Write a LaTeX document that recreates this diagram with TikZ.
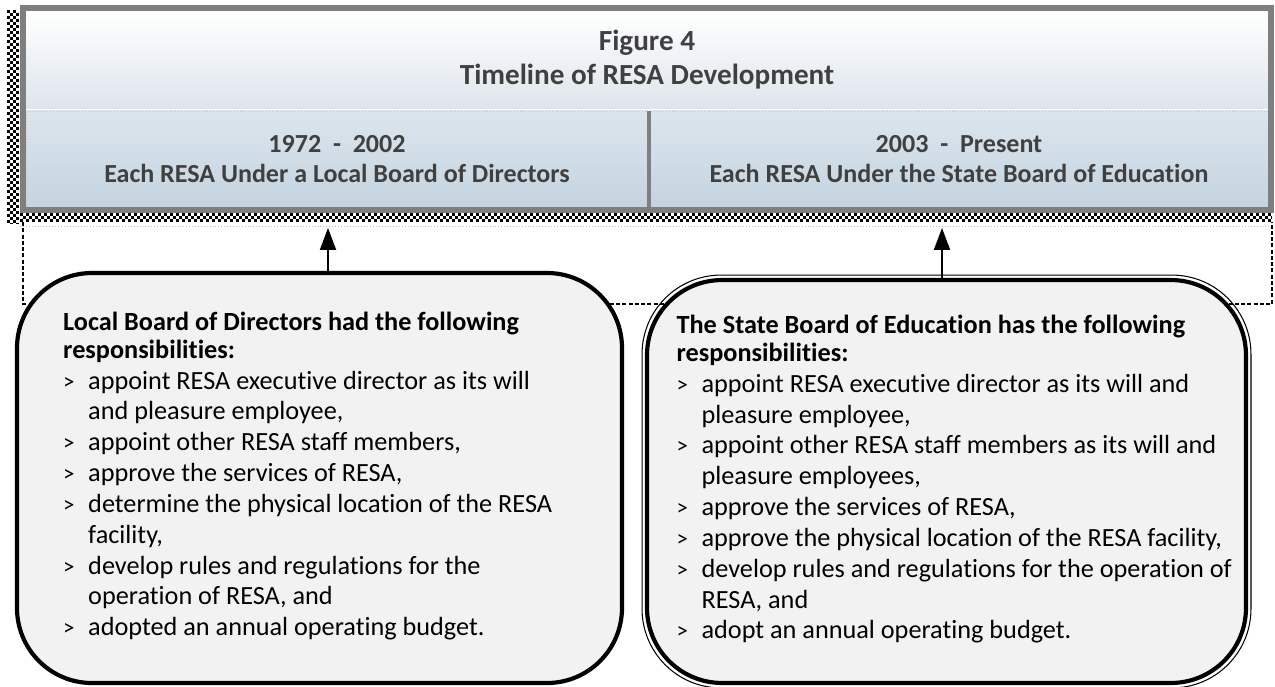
\documentclass[tikz,border=0pt]{standalone}
\usepackage{fontspec}
\setmainfont{Carlito}[Ligatures={NoCommon,NoRare,NoContextual}]
\usepackage{xcolor}
\usetikzlibrary{shapes,arrows.meta,positioning,calc,fit,backgrounds}
\definecolor{framegray}{HTML}{7F7F7F}
\definecolor{headtxt}{HTML}{404040}
\definecolor{bandbot}{HTML}{DEE5EC}
\definecolor{subtop}{HTML}{DCE5ED}
\definecolor{subbot}{HTML}{C4D4E0}
\definecolor{boxfill}{HTML}{F2F2F2}
\newcommand{\bul}{\makebox[12pt][l]{\fontsize{11}{11}\selectfont\textgreater}}
\newcommand{\hang}{\hspace*{12pt}}
\tikzset{
    band/.style={rectangle, top color=white, bottom color=bandbot, minimum width=596.2pt, minimum height=46.6pt, inner sep=0pt, align=center, text=headtxt, font=\bfseries\fontsize{14}{16.3}\selectfont},
    period/.style={rectangle, draw=gray!45, densely dotted, top color=subtop, bottom color=subbot, minimum height=46.1pt, inner sep=0pt, align=center, text=headtxt, font=\bfseries\fontsize{12.5}{14.4}\selectfont},
    frame/.style={rectangle, draw=framegray, line width=2.9pt, minimum width=599pt, minimum height=97pt, inner sep=0pt},
    divider/.style={draw=framegray, line width=1.9pt},
    duty/.style={rectangle, draw, fill=boxfill, rounded corners=36pt, line width=2pt},
    rim/.style={rectangle, draw, rounded corners=38pt, line width=0.5pt, inner sep=1.4pt},
    dutytext/.style={align=left, inner sep=0pt, font=\fontsize{12.6}{14.8}\selectfont},
    line/.style={draw, -{Triangle[length=10.5pt, width=7.7pt]}, line width=0.8pt},
    bracket/.style={draw, line width=1pt, dash pattern=on 2pt off 1pt},
    checker/.style={draw, line width=1.44pt, dash pattern=on 1.44pt off 1.44pt},
    shade/.style={draw=gray!50, densely dotted, line width=0.4pt}
}
\begin{document}
\begin{tikzpicture}[x=0.48pt, y=-0.48pt]
    \useasboundingbox (0,0) rectangle (1275,686);

    % shadow edges of the heading
    \draw [checker] (8,10) -- (8,224);
    \draw [checker, dash phase=1.44pt] (11,10) -- (11,224);
    \draw [checker] (14,10) -- (14,224);
    \draw [checker, dash phase=1.44pt] (17,10) -- (17,224);
    \draw [checker] (20,214) -- (1272,214);
    \draw [checker, dash phase=1.44pt] (20,217) -- (1272,217);
    \draw [checker] (20,220) -- (1272,220);
    \draw [shade] (20,226) -- (1272,226);
    \draw [bracket] (23,222) |- (1272,304) -- (1272,222);

    % heading
    \node [band] (title) at (647,59.5) {Figure 4\\Timeline of RESA Development};
    \node [period, minimum width=298.6pt] (early) at (337,159) {1972 \ - \ 2002\\Each RESA Under a Local Board of Directors};
    \node [period, minimum width=296.6pt] (late) at (959,159) {2003 \ - \ Present\\Each RESA Under the State Board of Education};
    \node [frame] (hdr) at (647,109) {};
    \path [divider] ($(early.north east)!0.5!(late.north west)$) -- ($(early.south east)!0.5!(late.south west)$);

    % responsibility boxes
    \node [duty, minimum width=290.4pt, minimum height=196.8pt] (lbox) at (319.5,478) {};
    \node [duty, minimum width=287.5pt, minimum height=193.4pt] (rbox) at (946.5,481.5) {};
    \node [rim, fit=(rbox)] (rrim) {};

    \node [dutytext, below right=19.5pt and 23pt of lbox.north west] (ltext) {%
        \textbf{Local Board of Directors had the following}\\[-1.4pt]
        \textbf{responsibilities:}\\
        \bul appoint RESA executive director as its will\\
        \hang and pleasure employee,\\
        \bul appoint other RESA staff members,\\
        \bul approve the services of RESA,\\
        \bul determine the physical location of the RESA\\
        \hang facility,\\
        \bul develop rules and regulations for the\\
        \hang operation of RESA, and\\
        \bul adopted an annual operating budget.};
    \node [dutytext, below right=17.6pt and 15pt of rbox.north west] (rtext) {%
        \textbf{The State Board of Education has the following}\\[-1.4pt]
        \textbf{responsibilities:}\\
        \bul appoint RESA executive director as its will and\\
        \hang pleasure employee,\\
        \bul appoint other RESA staff members as its will and\\
        \hang pleasure employees,\\
        \bul approve the services of RESA,\\
        \bul approve the physical location of the RESA facility,\\
        \bul develop rules and regulations for the operation of\\
        \hang RESA, and\\
        \bul adopt an annual operating budget.};

    % arrows up to the periods
    \coordinate (ltip) at (328,228);
    \coordinate (rtip) at (942,228);
    \path [line] (lbox.north -| ltip) -- (ltip);
    \path [line] (rbox.north -| rtip) -- (rtip);
\end{tikzpicture}
\end{document}
